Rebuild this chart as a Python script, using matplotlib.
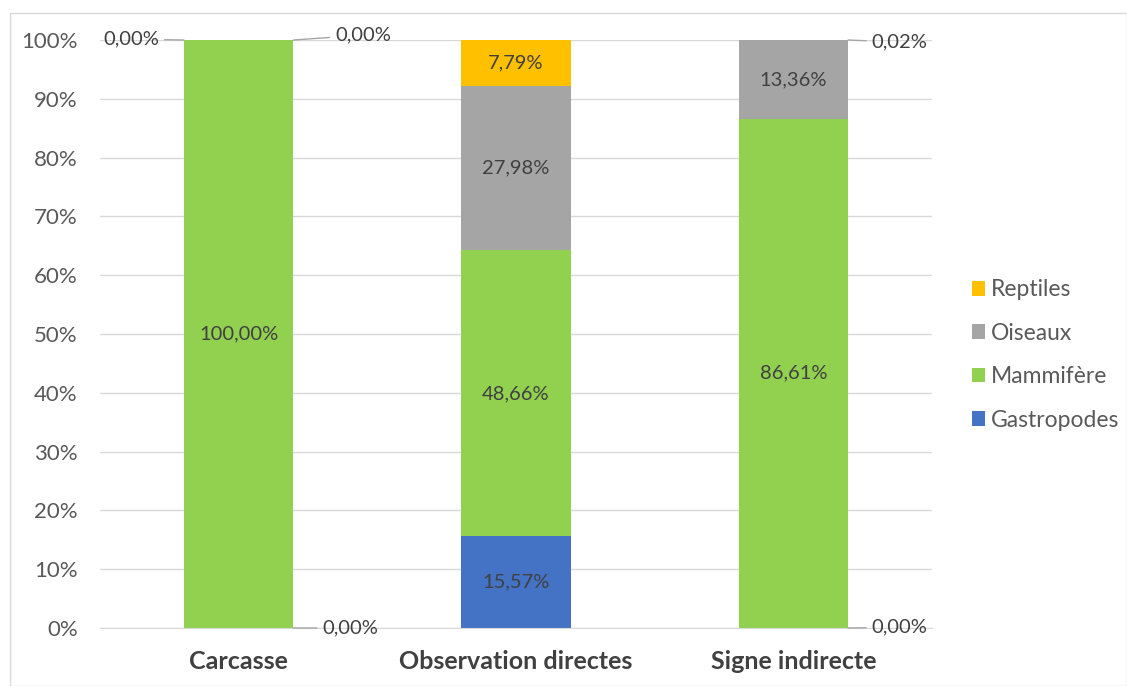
import matplotlib
matplotlib.use("Agg")
import matplotlib.pyplot as plt
from matplotlib.patches import Rectangle
import numpy as np

categories = ["Carcasse", "Observation directes", "Signe indirecte"]
series = ["Gastropodes", "Mammifère", "Oiseaux", "Reptiles"]
gastropodes = [0.00, 15.57, 0.00]
mammifere = [100.00, 48.66, 86.61]
oiseaux = [0.00, 27.98, 13.36]
reptiles = [0.00, 7.79, 0.02]
yticks = [0, 10, 20, 30, 40, 50, 60, 70, 80, 90, 100]

colors = {"Gastropodes": "#4472C4", "Mammifère": "#92D050",
          "Oiseaux": "#A5A5A5", "Reptiles": "#FFC000"}
values = {"Gastropodes": gastropodes, "Mammifère": mammifere,
          "Oiseaux": oiseaux, "Reptiles": reptiles}

plt.rcParams['font.family'] = ['Lato', 'DejaVu Sans']
W, H = 1127, 686
fig = plt.figure(figsize=(W / 100, H / 100), dpi=100)
fig.patches.append(Rectangle((10 / W, 0), 1 - 10 / W, 1 - 13 / H, transform=fig.transFigure,
                             fill=False, edgecolor="#D9D9D9", linewidth=1))
ax = fig.add_axes([100 / W, (H - 628) / H, 832 / W, 588 / H])

x = np.arange(len(categories))
width = 0.395
txtc = "#404040"
dfs = 14.5
bottom = np.zeros(len(categories))
for s in series:
    v = np.array(values[s])
    ax.bar(x, v, width, bottom=bottom, color=colors[s], label=s, zorder=2)
    for i in range(len(categories)):
        if v[i] >= 5:
            ax.text(x[i], bottom[i] + v[i] / 2, f"{v[i]:.2f}%".replace(".", ","),
                    ha="center", va="center", fontsize=dfs, color=txtc, zorder=3)
    bottom += v

# small-value labels with leader lines
def lbl(xd, yd, dx, dy, text, ha="left"):
    ax.annotate(text, xy=(xd, yd), xytext=(dx, dy), textcoords="offset points",
                ha=ha, va="center", fontsize=dfs, color=txtc, annotation_clip=False,
                arrowprops=dict(arrowstyle="-", color="#A6A6A6", lw=1,
                                shrinkA=2, shrinkB=0))

hw = width / 2
fmt = lambda v: f"{v:.2f}%".replace(".", ",")
# Carcasse
lbl(x[0] - hw, 100, -18, 0.5, fmt(oiseaux[0]), ha="right")
lbl(x[0] + hw, 100, 30, 3.5, fmt(reptiles[0]))
lbl(x[0] + hw, 0, 21, 0, fmt(gastropodes[0]))
# Signe indirecte
lbl(x[2] + hw, 100, 17, -1.5, fmt(reptiles[2]))
lbl(x[2] + hw, 0, 17, 0.5, fmt(gastropodes[2]))

ax.set_xlim(-0.5, 2.5)
ax.set_ylim(0, 100)
ax.set_yticks(yticks)
ax.set_yticklabels([f"{t}%" for t in yticks])
ax.set_xticks(x)
ax.set_xticklabels(categories, fontsize=18, fontweight="bold", color=txtc)
ax.tick_params(axis="y", labelsize=16, labelcolor="#595959", length=0, pad=16)
ax.tick_params(axis="x", length=0, pad=16)
ax.grid(axis="y", color="#D9D9D9", linewidth=1, zorder=0)
ax.set_axisbelow(True)
for sp in ["top", "right", "left"]:
    ax.spines[sp].set_visible(False)
ax.spines["bottom"].set_color("#D9D9D9")

handles, labels = ax.get_legend_handles_labels()
leg = fig.legend(handles[::-1], labels[::-1], loc="center left",
                 bbox_to_anchor=(951 / W, (H - 355) / H), frameon=False,
                 fontsize=16.5, handlelength=0.6, handleheight=0.6,
                 handletextpad=0.25, labelspacing=0.98, labelcolor="#595959")

fig.savefig("out.png", dpi=100)
